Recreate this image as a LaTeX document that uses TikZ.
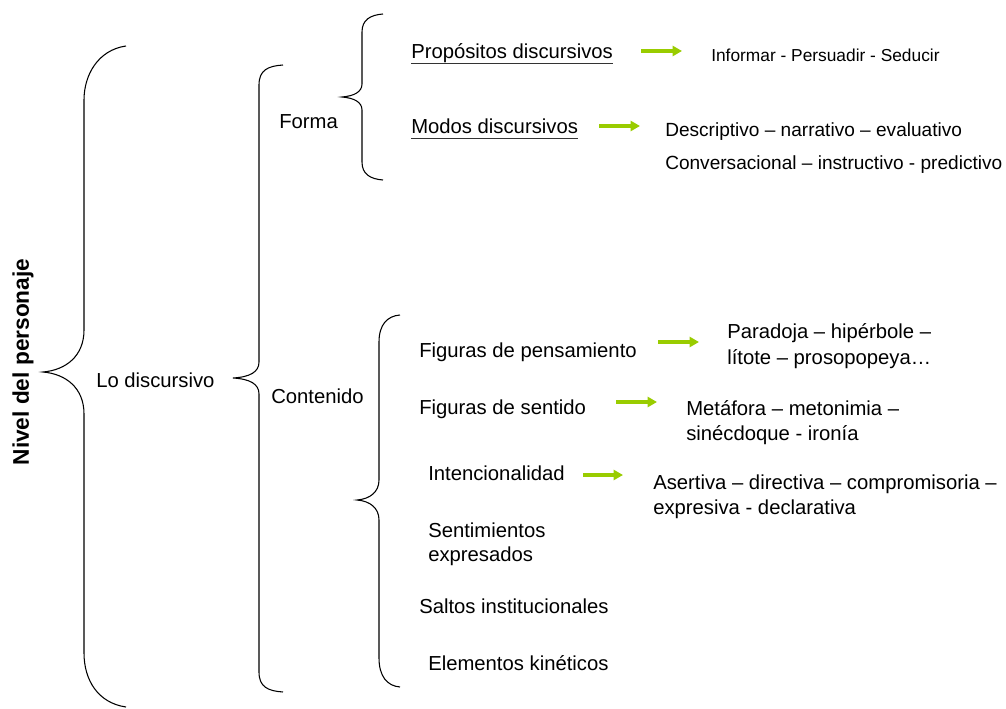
\documentclass[tikz,border=0pt]{standalone}
\usepackage{fontspec}
\setmainfont{Liberation Sans}
\usetikzlibrary{arrows.meta}
\definecolor{arrowgreen}{RGB}{153,204,0}
\begin{document}
\begin{tikzpicture}[x=0.75pt,y=-0.75pt,
  lbl/.style={inner sep=0pt, anchor=base west, font=\fontsize{15.2}{18}\selectfont},
  smalllbl/.style={inner sep=0pt, anchor=base west, font=\fontsize{13}{16}\selectfont},
  midlbl/.style={inner sep=0pt, anchor=base west, font=\fontsize{14.3}{17}\selectfont},
  brace/.style={line width=0.8pt, draw=black},
  garrow/.style={draw=arrowgreen, line width=3pt, -{Triangle[length=7pt,width=7.5pt]}},
  uline/.style={line width=0.8pt, draw=black!80}]
\useasboundingbox (0,0) rectangle (1006,709);

% title
\node[rotate=90, inner sep=0pt, font=\bfseries\fontsize{17}{20}\selectfont] (title) at (23,362) {Nivel del personaje};

% outer brace
\draw[brace] (126,46) .. controls (98,50) and (84,75) .. (84,100) -- (84,330)
  .. controls (84,356) and (66,370) .. (43,372)
  .. controls (66,374) and (84,388) .. (84,414) -- (84,653)
  .. controls (84,680) and (98,703) .. (126,707);

\node[lbl] (lo) at (96,387) {Lo discursivo};

% second brace
\draw[brace] (283,65) .. controls (268,66) and (259,70) .. (259,85) -- (259,362)
  .. controls (259,372) and (250,377) .. (233,378)
  .. controls (250,379) and (259,384) .. (259,394) -- (259,672)
  .. controls (259,687) and (268,691) .. (283,692);

\node[lbl] (forma) at (279,129) {Forma};
\node[lbl] (cont) at (271,403) {Contenido};

% forma brace
\draw[brace] (383,14) .. controls (370,15) and (362,20) .. (362,32) -- (362,84)
  .. controls (362,92) and (354,96) .. (342,97)
  .. controls (354,98) and (362,102) .. (362,110) -- (362,162)
  .. controls (362,174) and (370,179) .. (383,180);

\node[lbl] (prop) at (411,59) {Propósitos discursivos};
\draw[uline] ([yshift=-3.2pt]prop.base west) -- ([yshift=-3.2pt]prop.base east);
\node[lbl] (modos) at (411,134) {Modos discursivos};
\draw[uline] ([yshift=-3.2pt]modos.base west) -- ([yshift=-3.2pt]modos.base east);

\node[smalllbl] (inf) at (711,62) {Informar - Persuadir - Seducir};
\node[midlbl] (desc) at (665,137) {Descriptivo – narrativo – evaluativo};
\node[midlbl] (conv) at (665,170) {Conversacional – instructivo - predictivo};

\coordinate (a1s) at (641,51); \coordinate (a1e) at (682,51);
\coordinate (a2s) at (599,126); \coordinate (a2e) at (640,126);
\draw[garrow] (a1s) -- (a1e);
\draw[garrow] (a2s) -- (a2e);

% contenido brace
\draw[brace] (400,315) .. controls (387,316) and (379,325) .. (379,342) -- (379,480)
  .. controls (379,492) and (370,499) .. (357,500)
  .. controls (370,501) and (379,508) .. (379,520) -- (379,658)
  .. controls (379,676) and (387,686) .. (400,687);

\node[lbl] (fpens) at (419,357) {Figuras de pensamiento};
\node[lbl] (fsent) at (419,414) {Figuras de sentido};
\node[lbl] (inten) at (428,480) {Intencionalidad};
\node[lbl] (sent1) at (428,537) {Sentimientos};
\node[lbl] (sent2) at (428,561) {expresados};
\node[lbl] (saltos) at (419,613) {Saltos institucionales};
\node[lbl] (elem) at (428,670) {Elementos kinéticos};

\node[lbl] (par1) at (727,338) {Paradoja – hipérbole –};
\node[lbl] (par2) at (727,364) {lítote – prosopopeya…};
\node[lbl] (met1) at (686,415) {Metáfora – metonimia –};
\node[lbl] (met2) at (686,440) {sinécdoque - ironía};
\node[lbl] (ase1) at (653,489) {Asertiva – directiva – compromisoria –};
\node[lbl] (ase2) at (653,514) {expresiva - declarativa};

\coordinate (a3s) at (658,342); \coordinate (a3e) at (699,342);
\coordinate (a4s) at (616,402); \coordinate (a4e) at (657,402);
\coordinate (a5s) at (583,475); \coordinate (a5e) at (623,475);
\draw[garrow] (a3s) -- (a3e);
\draw[garrow] (a4s) -- (a4e);
\draw[garrow] (a5s) -- (a5e);
\end{tikzpicture}
\end{document}
